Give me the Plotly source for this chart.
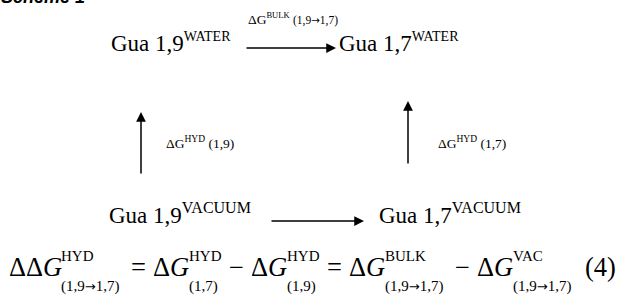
import plotly.graph_objects as go

# ---------------- data (text content) ----------------
title_text = "Scheme 1"
node_main = ["Gua 1,9", "Gua 1,7", "Gua 1,9", "Gua 1,7"]
node_sup = ["WATER", "WATER", "VACUUM", "VACUUM"]
arrow_label_main = ["ΔG", "ΔG", "ΔG"]
arrow_label_sup = ["BULK", "HYD", "HYD"]
arrow_label_tail = ["(1,9→1,7)", "(1,7)", "(1,9)"]

eq_main = ["ΔΔ<i>G</i>", "=", "Δ<i>G</i>", "−", "Δ<i>G</i>", "=", "Δ<i>G</i>", "−", "Δ<i>G</i>", "(4)"]
eq_sup = ["HYD", "", "HYD", "", "HYD", "", "BULK", "", "VAC", ""]
eq_sub = ["(1,9→1,7)", "", "(1,7)", "", "(1,9)", "", "(1,9→1,7)", "", "(1,9→1,7)", ""]

# ---------------- layout (positions in pixel space) ----------------
W, H = 634, 297
SERIF = "Liberation Serif, Times New Roman, serif"
ARROW_STYLE = "<span style='font-family:DejaVu Sans;font-size:%spx'>→</span>"

node_x = [110, 338, 108, 378]
node_y = [42, 42, 213, 213]
node_sup_size = [14, 14, 16, 16]

# horizontal / vertical arrows: (x_tail, y_tail, x_head, y_head)
arrows = [(245, 48, 336, 48), (270, 221, 364, 221), (141, 175, 141, 112), (408, 165, 408, 101)]
label_pos = [(247, 18), (437, 142), (165, 142)]
label_main_size = [13.5, 13.5, 13.5]
label_sup_size = [8.5, 9.5, 9.5]
label_tail_size = [11.5, 13.5, 13.5]

eq_x = [8, 130, 152, 228, 250, 326, 348, 454, 476, 584]
script_x = {0: 60, 2: 188, 4: 286, 6: 384, 8: 512}
eq_y_main, eq_y_sup, eq_y_sub = 267, 256, 286
EQ_F, EQ_S = 26.5, 15

ann = []


def txt(x, y, text, size, family=SERIF):
    ann.append(dict(x=x, y=y, xref="x", yref="y", text=text, showarrow=False,
                    xanchor="left", yanchor="middle", borderpad=0,
                    font=dict(family=family, size=size, color="black")))


def arrowize(s, size):
    return s.replace("→", ARROW_STYLE % size)


# title (partially cropped at the top edge, as in the reference)
ann.append(dict(x=0, y=1.0, xref="x", yref="paper", text="<b><i>" + title_text + "</i></b>",
                showarrow=False, xanchor="left", yanchor="middle", borderpad=0, yshift=3,
                font=dict(family="Liberation Sans, Arial", size=18, color="black")))

for i in range(4):
    txt(node_x[i], node_y[i],
        node_main[i] + "<sup><span style='font-size:%spx'>%s</span></sup>" % (node_sup_size[i], node_sup[i]), 23)

for (x0, y0, x1, y1) in arrows:
    ann.append(dict(x=x1, y=y1, ax=x0, ay=y0, xref="x", yref="y", axref="x", ayref="y",
                    text="", showarrow=True, arrowhead=2, arrowsize=1.3, arrowwidth=1.5,
                    arrowcolor="black", standoff=0, startstandoff=0))

for i in range(3):
    x, y = label_pos[i]
    tail = arrowize(arrow_label_tail[i], round(label_tail_size[i] * 0.9, 1))
    txt(x, y, "%s<sup><span style='font-size:%spx'>%s</span></sup> <span style='font-size:%spx'>%s</span>"
        % (arrow_label_main[i], label_sup_size[i], arrow_label_sup[i], label_tail_size[i], tail),
        label_main_size[i])

for i in range(len(eq_main)):
    txt(eq_x[i], eq_y_main, eq_main[i], EQ_F)

for i, sx in script_x.items():
    if eq_sup[i]:
        txt(sx, eq_y_sup, eq_sup[i], EQ_S)
    if eq_sub[i]:
        txt(sx, eq_y_sub, arrowize(eq_sub[i], 13), EQ_S)

fig = go.Figure()
fig.update_layout(
    width=W, height=H, margin=dict(l=0, r=0, t=0, b=0),
    paper_bgcolor="white", plot_bgcolor="white",
    xaxis=dict(range=[0, W], visible=False, fixedrange=True),
    yaxis=dict(range=[H, 0], visible=False, fixedrange=True),
    annotations=ann, showlegend=False,
)
fig.write_html("out.html", config={"displayModeBar": False},
               post_script="document.body.style.margin='0';")
